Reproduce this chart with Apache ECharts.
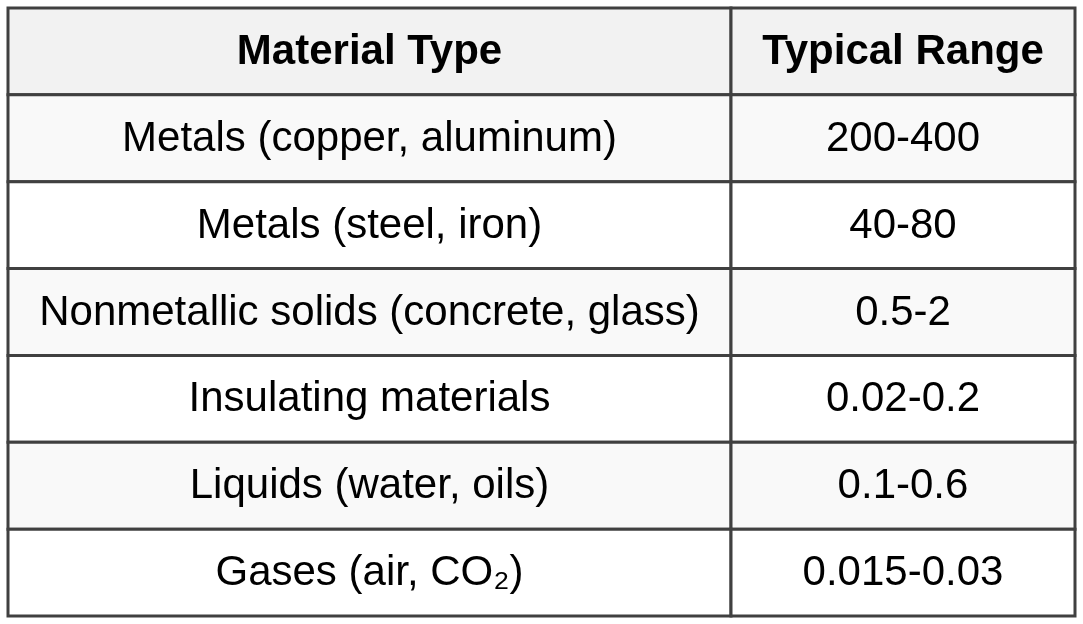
<!DOCTYPE html>
<html><head><meta charset="utf-8">
<script src="https://cdn.jsdelivr.net/npm/echarts@6/dist/echarts.min.js"></script>
<style>html,body{margin:0;padding:0;background:#fff}#c{width:1083px;height:624px}</style>
</head><body><div id="c"></div>
<script>
const headers = ['Material Type', 'Typical Range'];
const materials = ['Metals (copper, aluminum)', 'Metals (steel, iron)', 'Nonmetallic solids (concrete, glass)', 'Insulating materials', 'Liquids (water, oils)', 'Gases (air, CO₂)'];
const ranges = ['200-400', '40-80', '0.5-2', '0.02-0.2', '0.1-0.6', '0.015-0.03'];

const colEdges = [0, 723, 1067];
const rows = [headers].concat(materials.map((m, i) => [m, ranges[i]]));
const data = [];
rows.forEach((r, ri) => r.forEach((t, ci) => data.push([ci, ri, t])));

const chart = echarts.init(document.getElementById('c'));
chart.setOption({
  animation: false,
  grid: { left: 8, right: 8, top: 8, bottom: 8 },
  xAxis: { type: 'value', min: 0, max: 1067, show: false },
  yAxis: { type: 'value', min: 0, max: rows.length, inverse: true, show: false },
  series: [{
    type: 'custom',
    data: data,
    renderItem: function (params, api) {
      const ci = api.value(0), ri = api.value(1);
      const p0 = api.coord([colEdges[ci], ri]);
      const p1 = api.coord([colEdges[ci + 1], ri + 1]);
      const fill = ri === 0 ? '#f2f2f2' : (ri % 2 === 1 ? '#f9f9f9' : '#ffffff');
      return {
        type: 'group',
        children: [{
          type: 'rect',
          shape: { x: p0[0], y: p0[1], width: p1[0] - p0[0], height: p1[1] - p0[1] },
          style: { fill: fill, stroke: '#404040', lineWidth: 3 }
        }, {
          type: 'text',
          style: {
            text: data[params.dataIndex][2],
            x: (p0[0] + p1[0]) / 2, y: (p0[1] + p1[1]) / 2 + 1,
            align: 'center', verticalAlign: 'middle',
            fontFamily: 'Liberation Sans, Arial, sans-serif',
            fontSize: 42, fontWeight: ri === 0 ? 'bold' : 'normal', fill: '#000'
          }
        }]
      };
    }
  }]
});
</script></body></html>
